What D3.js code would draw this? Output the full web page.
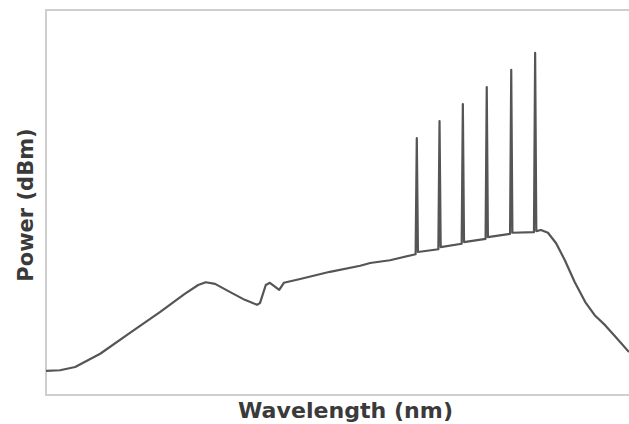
<!DOCTYPE html>
<html>
<head>
<meta charset="utf-8">
<script src="https://cdn.jsdelivr.net/npm/d3@7"></script>
<style>
  body { margin: 0; background: #fff; }
</style>
</head>
<body>
<div id="chart"></div>
<script>
// spectrum: wavelength (nm) and power (dBm)
let wavelength = [
  1500.0, 1502.4, 1505.0, 1509.3, 1514.4, 1519.6, 1523.8, 1526.1, 1527.4, 1529.0,
  1531.6, 1534.1, 1536.2, 1536.7, 1537.7, 1538.4, 1540.0, 1540.8, 1543.6, 1548.7,
  1553.9, 1555.6, 1559.0, 1563.4, 1563.6, 1563.8, 1567.3, 1567.5, 1567.7, 1571.3,
  1571.5, 1571.7, 1575.4, 1575.6, 1575.8, 1579.6, 1579.8, 1580.0, 1583.7, 1583.9,
  1584.1, 1584.9, 1586.1, 1587.5, 1589.0, 1590.7, 1592.5, 1594.2, 1595.9, 1597.6,
  1600.0
];
let power = [
  -65.6, -65.5, -64.9, -62.5, -58.7, -54.9, -51.6, -50.0, -49.5, -49.8,
  -51.3, -52.7, -53.6, -53.3, -50.0, -49.6, -50.9, -49.6, -48.9, -47.6,
  -46.5, -46.0, -45.5, -44.4, -23.3, -44.0, -43.5, -20.2, -43.1, -42.5,
  -17.1, -42.2, -41.6, -14.0, -41.3, -40.7, -10.9, -40.5, -40.4, -7.8,
  -40.2, -40.0, -40.5, -42.4, -45.5, -49.5, -53.1, -55.6, -57.3, -59.3,
  -62.2
];

let data = wavelength.map(function(w, i) { return {w: w, p: power[i]}; });

let margin = {top: 10, right: 0, bottom: 29, left: 46},
    width = 629 - margin.left - margin.right,
    height = 424 - margin.top - margin.bottom;

let x = d3.scaleLinear().domain([1500, 1600]).range([0, width]);
let y = d3.scaleLinear().domain([-70, 0]).range([height, 0]);

let svg = d3.select("#chart").append("svg")
    .attr("width", 629)
    .attr("height", 424)
  .append("g")
    .attr("transform", "translate(" + margin.left + "," + margin.top + ")");

// light frame (right side runs off the picture)
svg.append("path")
    .attr("d", "M" + (width + 20) + ",0H0V" + height + "H" + (width + 20))
    .attr("fill", "none")
    .attr("stroke", "#cfcfcf")
    .attr("stroke-width", 2);

let line = d3.line()
    .x(function(d) { return x(d.w); })
    .y(function(d) { return y(d.p); });

svg.append("path")
    .datum(data)
    .attr("d", line)
    .attr("fill", "none")
    .attr("stroke", "#555")
    .attr("stroke-width", 2.2)
    .attr("stroke-linejoin", "round");

// axis titles
svg.append("text")
    .attr("x", 192)
    .attr("y", height + 23)
    .attr("textLength", 215)
    .attr("lengthAdjust", "spacingAndGlyphs")
    .attr("font-family", "DejaVu Sans")
    .attr("font-weight", "bold")
    .attr("font-size", 21)
    .attr("fill", "#3a3a3a")
    .text("Wavelength (nm)");

svg.append("text")
    .attr("transform", "translate(-13," + (205 - margin.top) + ") rotate(-90)")
    .attr("text-anchor", "middle")
    .attr("font-family", "DejaVu Sans")
    .attr("font-weight", "bold")
    .attr("font-size", 21)
    .attr("fill", "#3a3a3a")
    .text("Power (dBm)");
</script>
</body>
</html>
